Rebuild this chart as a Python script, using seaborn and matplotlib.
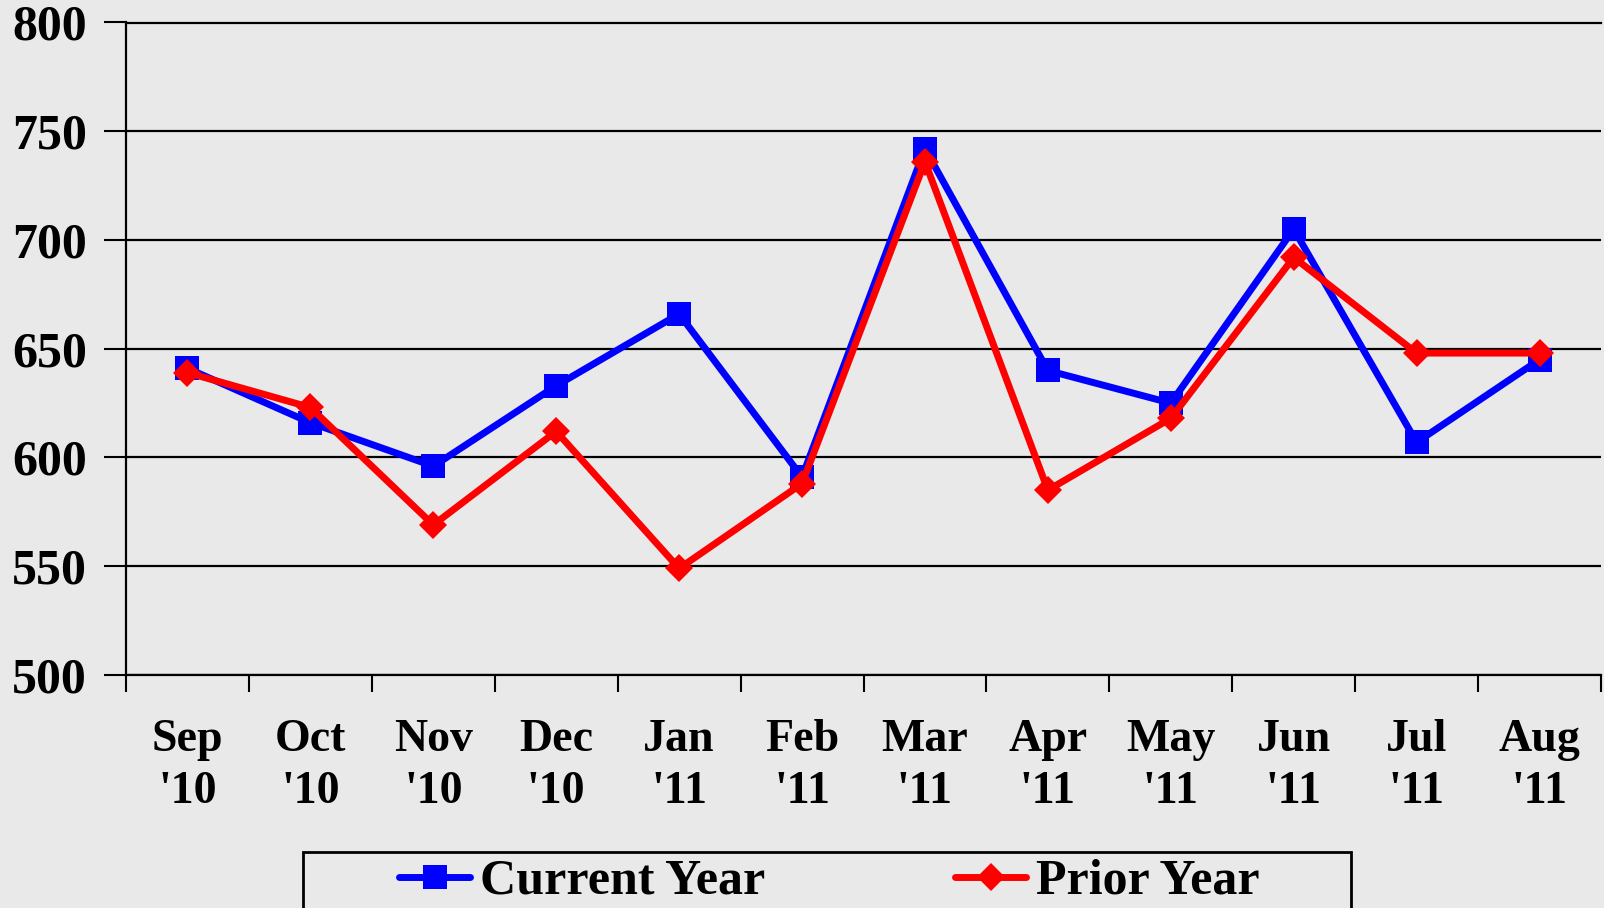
import matplotlib
matplotlib.use("Agg")
import matplotlib.pyplot as plt
from matplotlib.lines import Line2D
from matplotlib.patches import Rectangle
import seaborn as sns
import pandas as pd

months = ["Sep\n'10", "Oct\n'10", "Nov\n'10", "Dec\n'10", "Jan\n'11", "Feb\n'11",
          "Mar\n'11", "Apr\n'11", "May\n'11", "Jun\n'11", "Jul\n'11", "Aug\n'11"]
current_year = [641, 616, 596, 633, 666, 591, 742, 640, 625, 705, 607, 645]
prior_year = [639, 623, 569, 612, 549, 588, 736, 585, 618, 692, 648, 648]
series_names = ["Current Year", "Prior Year"]
y_ticks = [500, 550, 600, 650, 700, 750, 800]

W, H = 1604, 908
sns.set_theme(style="white")
plt.rcParams['font.family'] = ['Liberation Serif', 'DejaVu Serif']
plt.rcParams['font.weight'] = 'bold'
for k in ['text.color', 'xtick.color', 'ytick.color', 'axes.labelcolor']:
    plt.rcParams[k] = 'black'

df = pd.DataFrame({
    "pos": list(range(len(months))) * 2,
    "value": current_year + prior_year,
    "series": [series_names[0]] * len(months) + [series_names[1]] * len(months),
})

fig = plt.figure(figsize=(W / 100, H / 100), dpi=100)
bg = '#e9e9ea'
fig.patch.set_facecolor(bg)
left, right, top, bottom = 126, 1601, 22.5, 675
ax = fig.add_axes([left / W, 1 - bottom / H, (right - left) / W, (bottom - top) / H])
ax.set_facecolor('none')

colors = {"Current Year": "#0000ff", "Prior Year": "#ff0000"}
markers = {"Current Year": "s", "Prior Year": "D"}
msizes = {"Current Year": 17.3, "Prior Year": 14.0}
lw = 5.0

sns.lineplot(data=df, x="pos", y="value", hue="series", style="series",
             palette=colors, markers=markers, dashes=False, linewidth=lw,
             markeredgewidth=0, ax=ax, legend=False, zorder=3)
for line, name in zip(ax.get_lines(), series_names):
    line.set_markersize(msizes[name])

ax.set_xlim(-0.5, len(months) - 0.5)
ax.set_ylim(500, 800)
ax.set_yticks(y_ticks)
ax.set_yticklabels([str(v) for v in y_ticks], fontsize=36, fontweight='bold')
ax.set_xticks([i for i in range(len(months))])
ax.set_xticklabels(months, fontsize=33, fontweight='bold', linespacing=1.31)
ax.set_xticks([i - 0.5 for i in range(len(months) + 1)], minor=True)
ax.tick_params(axis='x', which='major', length=0, pad=32)
ax.tick_params(axis='x', which='minor', length=12, width=1.5, color='black', direction='out', bottom=True)
ax.tick_params(axis='y', which='major', length=16, width=1.5, color='black', direction='out', pad=12, left=True)
ax.set_xlabel("")
ax.set_ylabel("")
ax.yaxis.grid(True, color='black', linewidth=1.6, zorder=1)
ax.xaxis.grid(False)
ax.spines['right'].set_visible(False)
for s in ['left', 'bottom', 'top']:
    ax.spines[s].set_color('black')
    ax.spines[s].set_linewidth(1.6)

# legend
rect = Rectangle((303 / W, -0.02), (1351 - 303) / W, 0.02 + (908 - 852) / H,
                 transform=fig.transFigure, facecolor='none', edgecolor='black',
                 linewidth=2, clip_on=False)
fig.patches.append(rect)
handles = [Line2D([], [], color=colors[n], marker=markers[n], markersize=msizes[n],
                  markeredgewidth=0, linewidth=lw) for n in series_names]
fig.legend(handles, series_names, loc='center left',
           bbox_to_anchor=(374 / W, 1 - 882 / H), ncol=2, frameon=False,
           prop={'family': 'Liberation Serif', 'weight': 'bold', 'size': 36},
           handlelength=1.42, handletextpad=0.2, columnspacing=3.8, borderpad=0)

fig.savefig("out.png", dpi=100, facecolor=bg)
